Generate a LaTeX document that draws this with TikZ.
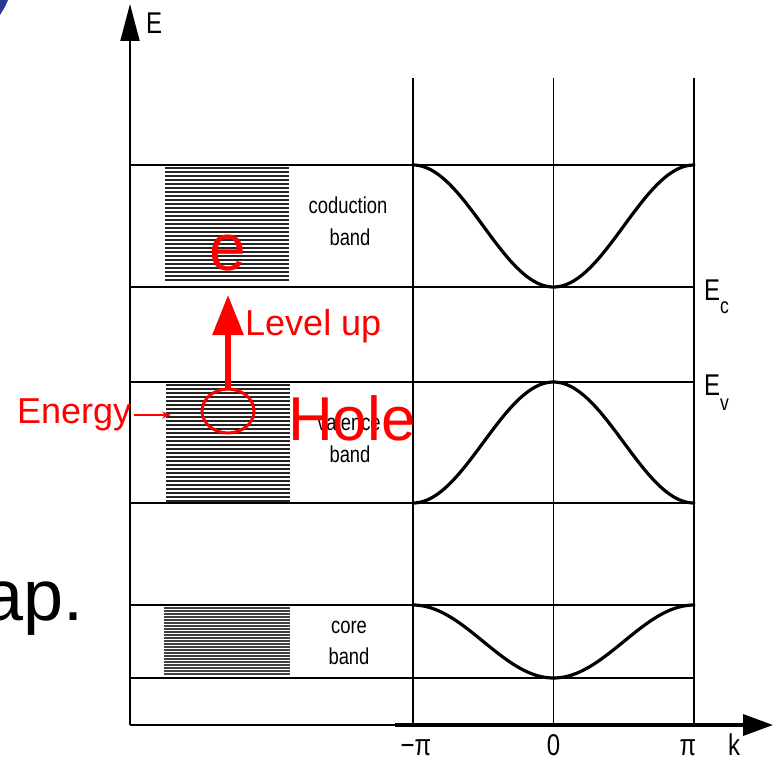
\documentclass[tikz,border=0pt]{standalone}
\usepackage{fontspec}
\setmainfont{Liberation Sans}
\newfontfamily\cond[FakeStretch=0.8]{Liberation Sans}
\usetikzlibrary{arrows.meta,shapes.geometric}
\definecolor{myred}{RGB}{255,0,0}
\definecolor{myblue}{RGB}{45,55,150}
\tikzset{
  axisline/.style={line width=2pt,black},
  bandline/.style={line width=1.6pt,black},
  vline/.style={line width=1.3pt,black},
  curve/.style={line width=3.2pt,black,line cap=round},
  hatch/.style={line width=2.1pt,black!85},
  lbl/.style={inner sep=0pt,font=\cond\fontsize{23}{26}\selectfont},
  axlbl/.style={inner sep=0pt,font=\cond\fontsize{30}{32}\selectfont},
  sublbl/.style={inner sep=0pt,font=\cond\fontsize{22}{24}\selectfont},
  redtxt/.style={inner sep=0pt,text=myred},
}
\begin{document}
\begin{tikzpicture}[x=1pt,y=-1pt]
\useasboundingbox (0,0) rectangle (776,760);
% blue corner piece
\fill[myblue] (0,0) -- (8,0) .. controls (5,7) .. (0,15) -- cycle;
% ap.
\node[inner sep=0pt,anchor=base east,font=\fontsize{72}{80}\selectfont] (ap) at (84,620) {ap.};
% hatched band boxes
\foreach \yy in {168,172,...,282}{\draw[hatch] (165,\yy) -- (289,\yy);}
\foreach \yy in {385,389,...,501}{\draw[hatch] (166,\yy) -- (290,\yy);}
\foreach \yy in {608,611,...,676}{\draw[hatch,black!75,line width=1.7pt] (164,\yy) -- (290,\yy);}
% coordinates
\coordinate (eb) at (130,725);
\coordinate (et) at (130,4);
\coordinate (kb) at (395,725);
\coordinate (kt) at (773,725);
% horizontal band edges
\foreach \yy in {165,287,382,503,605,678}{\draw[bandline] (130,\yy) -- (694,\yy);}
% vertical lines
\draw[vline,line width=2.2pt] (413,78) -- (413,725);
\draw[vline] (553.5,78) -- (553.5,725);
\draw[vline] (694,78) -- (694,725);
% bottom of left box
\draw[bandline] (130,725) -- (413,725);
% axes
\draw[axisline,-{Triangle[length=37pt,width=19pt]}] (eb) -- (et);
\draw[axisline,line width=3.5pt,-{Triangle[length=30pt,width=21pt]}] (kb) -- (kt);
% curves
\draw[curve] plot[domain=-180:180,samples=90,smooth] ({553.5+(\x/180)*140.5},{226+61*cos(\x)});
\draw[curve] plot[domain=-180:180,samples=90,smooth] ({553.5+(\x/180)*140.5},{442.5-60.5*cos(\x)});
\draw[curve] plot[domain=-180:180,samples=90,smooth] ({553.5+(\x/180)*140.5},{641.5+36.5*cos(\x)});
% axis labels
\node[axlbl,anchor=base west] (E) at (146,34) {E};
\node[axlbl,anchor=base west] (Ec) at (704,300) {E};
\node[sublbl,anchor=base west] (Ecs) at (720,313) {c};
\node[axlbl,anchor=base west] (Ev) at (704,395) {E};
\node[sublbl,anchor=base west] (Evs) at (720,410) {v};
\node[axlbl,anchor=base] (mpi) at (416,755) {−π};
\node[axlbl,anchor=base] (zero) at (553.5,755) {0};
\node[axlbl,anchor=base] (ppi) at (688,755) {π};
\node[axlbl,anchor=base] (k) at (734,755) {k};
% band labels
\node[lbl,anchor=base] (cb1) at (348,213) {coduction};
\node[lbl,anchor=base] (cb2) at (350,245) {band};
\node[lbl,anchor=base] (vb1) at (349,430) {valence};
\node[lbl,anchor=base] (vb2) at (350,462) {band};
\node[lbl,anchor=base] (kb1) at (349,633) {core};
\node[lbl,anchor=base] (kb2) at (349,664) {band};
% red annotations
\node[redtxt,anchor=base,font=\fontsize{66}{70}\selectfont] (e) at (228,270) {e};
\node[draw=myred,line width=3pt,ellipse,minimum width=52pt,minimum height=44pt,inner sep=0pt] (circ) at (228,411) {};
\coordinate (uptip) at (228,295);
\draw[myred,line width=6pt,-{Triangle[length=40pt,width=30pt]}] (circ.north) -- (uptip);
\node[redtxt,anchor=base west,font=\fontsize{36}{40}\selectfont] (lvl) at (245,335) {Level up};
\node[redtxt,anchor=base west,font=\fontsize{36}{40}\selectfont] (en) at (17,423) {Energy};
\coordinate (entip) at (171,415);
\draw[myred,line width=1.5pt,-{Stealth[length=9pt,width=7pt]}] (en.east |- entip) ++(3,0) -- (entip);
\node[redtxt,anchor=base west,font=\fontsize{62}{66}\selectfont] (hole) at (288,440) {Hole};
\end{tikzpicture}
\end{document}
